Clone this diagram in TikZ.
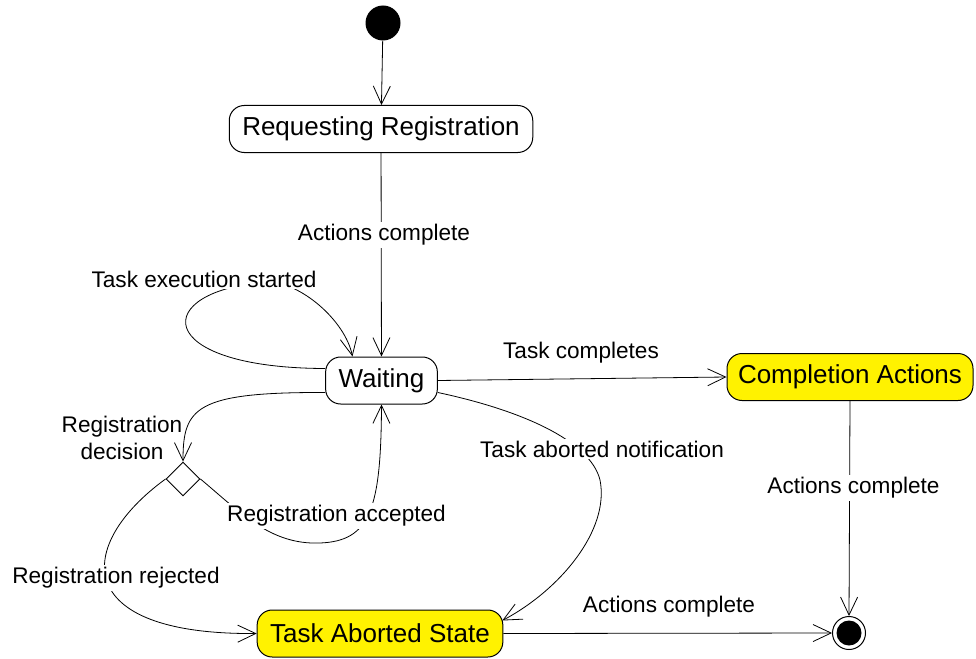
\documentclass[tikz,border=0pt]{standalone}
\usepackage{fontspec}
\setmainfont{Liberation Sans}
\usetikzlibrary{arrows.meta,shapes.geometric,calc}
\begin{document}
\begin{tikzpicture}[x=1pt,y=-1pt,
  state/.style={draw, rounded corners=15pt, line width=1pt, minimum height=47pt, inner xsep=13pt, inner ysep=0pt, font=\fontsize{26}{30}\selectfont},
  hl/.style={state, fill=yellow},
  tr/.style={line width=0.8pt, -{Straight Barb[length=18pt,width=17pt,line width=0.8pt]}},
  ln/.style={line width=0.8pt},
  lbl/.style={fill=white, inner sep=2pt, font=\fontsize{22.6}{27}\selectfont, align=center},
]
\useasboundingbox (0,0) rectangle (976,658);

% nodes
\node[circle, fill=black, minimum size=35pt, inner sep=0pt] (init) at (383,23) {};
\node[state] (req) at (381,129) {Requesting Registration};
\node[state] (wait) at (381.5,380.5) {Waiting};
\node[hl, inner xsep=11pt] (comp) at (850,377) {Completion Actions};
\node[hl] (tab) at (380,633.5) {Task Aborted State};
\node[diamond, draw, line width=0.9pt, fill=white, minimum width=34pt, minimum height=34pt, inner sep=0pt] (dia) at (183,479) {};
\node[circle, draw, line width=1pt, fill=white, minimum size=33pt, inner sep=0pt] (fin) at (849,633) {};
\node[circle, fill=black, minimum size=25pt, inner sep=0pt] (fincore) at (fin) {};

% connectors
\draw[tr] (init) -- (req);
\draw[tr] (req) -- (wait);
\node[lbl] (l1) at (384,235) {Actions complete};

\draw[tr] ($(wait.west)+(0,-12)$) .. controls (150,368) and (150,290) .. (268,282)
  .. controls (300,282) and (345,320) .. ($(wait.north)+(-29,0)$);
\node[lbl] (l2) at (204,279) {Task execution started};

\draw[tr] (wait.east) -- (comp.west);
\node[lbl] (l3) at (581,353) {Task completes};

\draw[tr] ($(wait.west)+(0,12)$) .. controls (195,392) and (183,408) .. (dia.north);
\node[lbl, fill=none] (l4) at (122,438) {Registration\\decision};

\draw[tr] (dia.east) .. controls (240,512) and (270,545) .. (320,543)
  .. controls (370,541) and (381,510) .. (wait.south);
\node[lbl] (l5) at (336.5,516) {Registration accepted};

\draw[tr] (dia.west) .. controls (75,545) and (70,635) .. (tab.west);
\node[lbl] (l6) at (116,578) {Registration rejected};

\draw[tr] ($(wait.east)+(0,12)$) .. controls (520,410) and (590,440) .. (600,480)
  .. controls (610,530) and (560,590) .. ($(tab.east)+(-1,-13)$);
\node[lbl] (l7) at (602,449) {Task aborted notification};

\draw[tr] (comp.south) -- (fin.north);
\node[lbl] (l8) at (853.5,488) {Actions complete};

\draw[tr] (tab.east) -- (fin.west);
\node[lbl, fill=none] (l9) at (669,607) {Actions complete};
\end{tikzpicture}
\end{document}
